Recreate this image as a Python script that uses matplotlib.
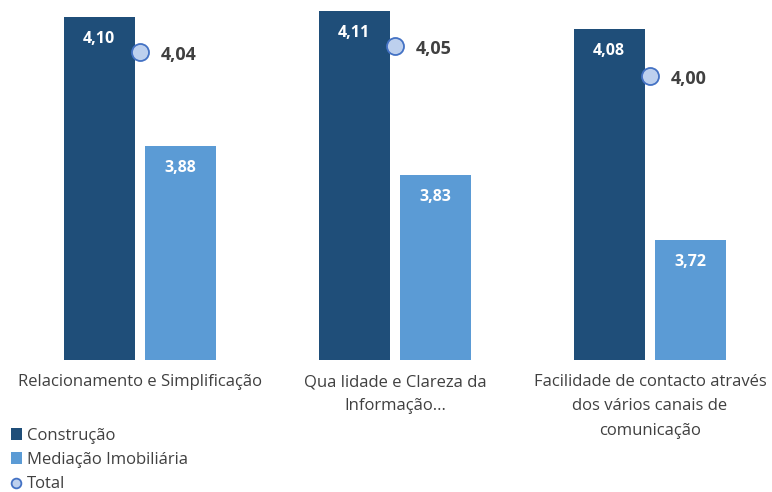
import matplotlib.pyplot as plt
from matplotlib.lines import Line2D
from matplotlib.transforms import ScaledTranslation
import numpy as np

# chart data
categories = ['Relacionamento e Simplificação',
              'Qua lidade e Clareza da\nInformação...',
              'Facilidade de contacto através\ndos vários canais de\ncomunicação']
construcao = [4.10, 4.11, 4.08]
mediacao = [3.88, 3.83, 3.72]
total = [4.04, 4.05, 4.00]

dark_blue = '#1F4E79'
light_blue = '#5B9BD5'
marker_fill = '#BDD0EE'
marker_edge = '#4472C4'

plt.rcParams['font.family'] = ['Open Sans', 'DejaVu Sans']

fig = plt.figure(figsize=(7.72, 4.92), dpi=100)
# axes placed so that the bar baseline sits at y=360px
ax = fig.add_axes([0, 1 - 360 / 492, 1, 360 / 492])
ax.set_xlim(-140 / 255, 632 / 255)
ymin = 3.515
ax.set_ylim(ymin, ymin + 360 / 586)
ax.axis('off')

x = np.arange(len(categories))
w = 0.278
off = 0.16

b1 = ax.bar(x - off, np.array(construcao) - ymin, w, bottom=ymin, color=dark_blue,
            label='Construção')
b2 = ax.bar(x + off, np.array(mediacao) - ymin, w, bottom=ymin, color=light_blue,
            label='Mediação Imobiliária')
ax.scatter(x, total, s=150, color=marker_fill, edgecolor=marker_edge, linewidth=1.3,
           zorder=3)

def fmt(v):
    return f'{v:.2f}'.replace('.', ',')

for xi, v in zip(x, construcao):
    ax.annotate(fmt(v), (xi - off, v), xytext=(0, -10),
                textcoords='offset points', ha='center', va='top', color='white',
                fontsize=11.5, fontweight='bold')
for xi, v in zip(x, mediacao):
    ax.annotate(fmt(v), (xi + off, v), xytext=(0, -10),
                textcoords='offset points', ha='center', va='top', color='white',
                fontsize=11.5, fontweight='bold')
for xi, v in zip(x, total):
    ax.annotate(fmt(v), (xi, v), xytext=(15, -2),
                textcoords='offset points', ha='left', va='center', color='#404040',
                fontsize=13, fontweight='bold')

# category labels below the baseline
shift = ScaledTranslation(0, -14 / 100, fig.dpi_scale_trans)
for xi, lab in zip(x, categories):
    ax.text(xi, ymin, lab, ha='center', va='top', fontsize=12, color='#404040',
            linespacing=1.7, transform=ax.transData + shift)

total_handle = Line2D([], [], marker='o', linestyle='none', markersize=7,
                      markerfacecolor=marker_fill, markeredgecolor=marker_edge,
                      markeredgewidth=1.3, label='Total')
fig.legend(handles=[b1, b2, total_handle], loc='upper left',
           bbox_to_anchor=(0.005, 1 - 421 / 492),
           frameon=False, fontsize=12, handlelength=0.7, handleheight=0.7,
           handletextpad=0.3, labelspacing=0.5, borderaxespad=0,
           labelcolor='#404040')

fig.savefig('out.png', dpi=100)
